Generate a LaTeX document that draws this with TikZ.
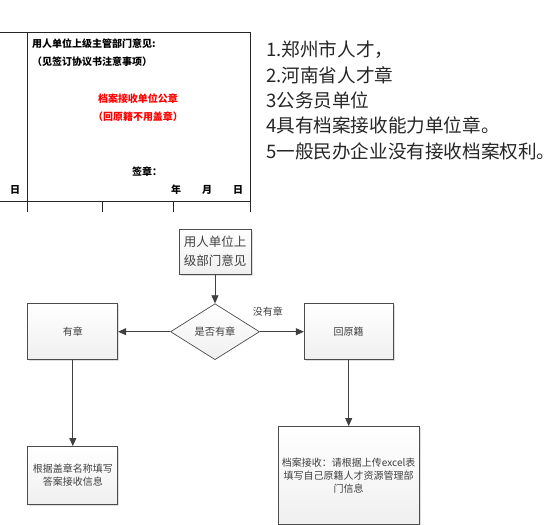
\documentclass[tikz,border=0pt]{standalone}
\usepackage{fontspec}
\setmainfont{Noto Sans CJK SC}
\usetikzlibrary{shapes.geometric, arrows.meta, positioning, shadows}

\begin{document}
\begin{tikzpicture}[
    x=1pt, y=-1pt,
    box/.style={rectangle, draw=black!70, line width=0.7pt, top color=white, bottom color=gray!12, drop shadow={opacity=0.25, shadow xshift=1.5pt, shadow yshift=-1.5pt}, align=center, font=\fontsize{10}{13}\selectfont, text=black!75, inner sep=0pt},
    decision/.style={diamond, aspect=1.6, draw=black!70, line width=0.7pt, top color=white, bottom color=gray!12, minimum width=89pt, minimum height=56pt, inner sep=0pt, font=\fontsize{10.2}{13}\selectfont, text=black!75},
    arrow/.style={-{Triangle[length=8pt, width=7pt]}, line width=0.7pt, draw=black!75},
    formtext/.style={font=\bfseries\fontsize{10}{11}\selectfont, inner sep=0pt},
    stamp/.style={formtext, text=red},
    grid/.style={line width=0.9pt, black!85}
]
\useasboundingbox (0,0) rectangle (558,525);

% Form fragment at the top left
\draw[grid] (0,32) -- (250,32) -- (250,212);
\draw[grid] (27,32) -- (27,212);
\draw[grid] (0,201) -- (250,201);
\draw[grid] (102,201) -- (102,212);
\draw[grid] (173,201) -- (173,212);

\node[formtext, anchor=west] (head) at (32,44) {用人单位上级主管部门意见:};
\node[formtext, anchor=west] (note) at (32,62) {（见签订协议书注意事项）};
\node[stamp] (seal) at (138,99) {档案接收单位公章};
\node[stamp] (sealnote) at (138,117) {（回原籍不用盖章）};
\node[formtext, anchor=west] (sign) at (132,172) {签章：};
\node[formtext] (year) at (176,190) {年};
\node[formtext] (month) at (207,190) {月};
\node[formtext] (day) at (238,190) {日};
\node[formtext] (dayleft) at (15,190) {日};

% Rules list at the top right
\node[anchor=west, align=left, inner sep=0pt, font=\fontsize{18.6}{25.3}\selectfont, text=black!85] (rules) at (266,100.5) {1.郑州市人才，\\2.河南省人才章\\3公务员单位\\4具有档案接收能力单位章。\\5一般民办企业没有接收档案权利。};

% Flowchart
\node[box, minimum width=72pt, minimum height=45pt, font=\fontsize{12.5}{19}\selectfont] (opinion) at (215,251.5) {用人单位上\\级部门意见};
\node[decision, below=29pt of opinion] (check) {是否有章};
\node[box, left=52pt of check, minimum width=90pt, minimum height=56pt] (yes) {有章};
\node[box, right=44pt of check, minimum width=89pt, minimum height=56pt] (back) {回原籍};
\node[box, below=86pt of yes, minimum width=90pt, minimum height=58pt] (fillin) {根据盖章名称填写\\答案接收信息};
\node[box, below=66pt of back, minimum width=141pt, minimum height=98pt] (upload) {档案接收：请根据上传excel表\\填写自己原籍人才资源管理部\\门信息};

% Arrows
\draw[arrow] (opinion) -- (check);
\draw[arrow] (check) -- (yes);
\draw[arrow] (check) -- (back) node[pos=0.18, above=15pt, inner sep=0pt, font=\fontsize{10}{13}\selectfont, text=black!75] {没有章};
\draw[arrow] (yes) -- (fillin);
\draw[arrow] (back) -- (upload);

\end{tikzpicture}
\end{document}
